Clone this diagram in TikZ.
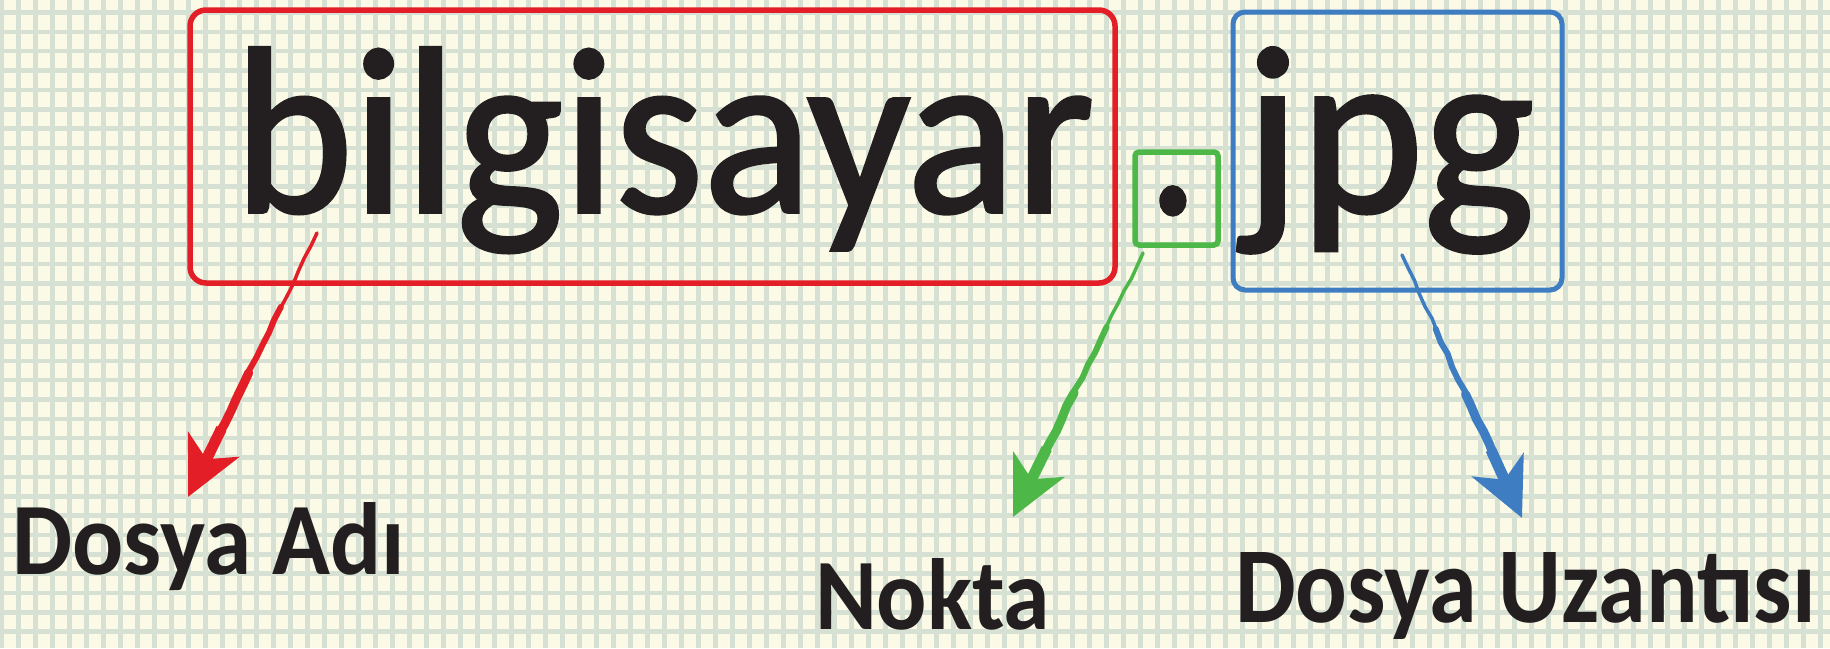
\documentclass[tikz,border=0pt]{standalone}
\usepackage{fontspec}
\setmainfont{Carlito}[FakeBold=1.6]
\newfontfamily\labfont{Carlito}
\usetikzlibrary{arrows.meta,calc,decorations.pathmorphing}
\definecolor{bgc}{HTML}{FBFAE7}
\definecolor{gridc}{HTML}{D6E1D3}
\definecolor{redc}{HTML}{E31E26}
\definecolor{greenc}{HTML}{4DB848}
\definecolor{bluec}{HTML}{3E7DC1}
\definecolor{inkc}{HTML}{231F20}
\tikzset{
  txt/.style={inner sep=0pt, outer sep=0pt, anchor=base west, text=inkc},
  labtxt/.style={txt, font=\labfont\bfseries},
  gridline/.style={gridc, line width=4.5pt},
  boxline/.style={line width=5.5pt},
  rough/.style={decorate, decoration={random steps, segment length=14pt, amplitude=1pt}},
  tipstyle/.style={-{Stealth[length=58pt,width=56pt,inset=16pt]}}
}
\newcommand{\shaft}[3]{% color, start, end
  \draw[#1, line width=3.5pt, line cap=round, rough] (#2) -- ($(#2)!0.3!(#3)$);
  \draw[#1, line width=6pt, line cap=round, rough] ($(#2)!0.28!(#3)$) -- ($(#2)!0.55!(#3)$);
  \draw[#1, line width=9pt, line cap=round, rough] ($(#2)!0.53!(#3)$) -- ($(#2)!0.76!(#3)$);
  \draw[#1, line width=11pt, tipstyle] ($(#2)!0.74!(#3)$) -- (#3);
}
\begin{document}
\begin{tikzpicture}[x=1pt,y=-1pt]
\pgfmathsetseed{7}
\fill[bgc] (0,0) rectangle (1830,648);
\useasboundingbox (0,0) rectangle (1830,648);
\foreach \i in {0,...,107} \draw[gridline] ({1.3+17*\i},0) -- ({1.3+17*\i},648);
\foreach \j in {0,...,33} \draw[gridline] (0,{12.5+19.35*\j}) -- (1830,{12.5+19.35*\j});

% boxes
\draw[redc, boxline, rounded corners=16pt] (190,10) rectangle (1115,283);
\draw[greenc, boxline, rounded corners=4pt] (1135,152) rectangle (1218,245);
\draw[bluec, line width=5pt, rounded corners=12pt] (1233,12) rectangle (1562,290);

% main text
\node[txt] (fname) at (234,212) {\resizebox{860pt}{164pt}{bilgisayar}};
\node[txt, anchor=base] (dot) at (1173,213) {\fontsize{230}{230}\selectfont\scalebox{0.87}[1]{.}};
\node[txt] (ext) at (1244,212) {\resizebox{290pt}{164pt}{jpg}};

% labels
\node[labtxt] (lname) at (12,574) {\resizebox{393pt}{72pt}{Dosya Adı}};
\node[labtxt] (ldot) at (815,629) {\resizebox{235pt}{71pt}{Nokta}};
\node[labtxt] (lext) at (1235,622) {\resizebox{580pt}{70pt}{Dosya Uzantısı}};

% arrow end points
\coordinate (rs) at (317,233);
\coordinate (re) at (188,497);
\coordinate (gs) at (1143,253);
\coordinate (ge) at (1013,517);
\coordinate (bs) at (1402,255);
\coordinate (be) at (1522,518);

\shaft{redc}{rs}{re}
\shaft{greenc}{gs}{ge}
\shaft{bluec}{bs}{be}
\end{tikzpicture}
\end{document}
